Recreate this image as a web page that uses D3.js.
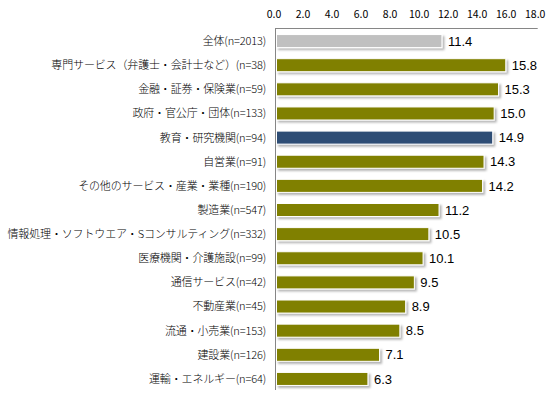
<!DOCTYPE html>
<html>
<head>
<meta charset="utf-8">
<script src="https://cdn.jsdelivr.net/npm/d3@7"></script>
<style>
  body { margin: 0; background: #fff; }
  svg { display: block; font-family: "Noto Sans CJK JP", sans-serif; }
</style>
</head>
<body>
<div id="chart"></div>
<script>
// categories and values
const categories = [
  '全体(n=2013)',
  '専門サービス（弁護士・会計士など）(n=38)',
  '金融・証券・保険業(n=59)',
  '政府・官公庁・団体(n=133)',
  '教育・研究機関(n=94)',
  '自営業(n=91)',
  'その他のサービス・産業・業種(n=190)',
  '製造業(n=547)',
  '情報処理・ソフトウエア・Sコンサルティング(n=332)',
  '医療機関・介護施設(n=99)',
  '通信サービス(n=42)',
  '不動産業(n=45)',
  '流通・小売業(n=153)',
  '建設業(n=126)',
  '運輸・エネルギー(n=64)'
];
const values = [11.4, 15.8, 15.3, 15.0, 14.9, 14.3, 14.2, 11.2, 10.5, 10.1, 9.5, 8.9, 8.5, 7.1, 6.3];
const tickValues = [0, 2, 4, 6, 8, 10, 12, 14, 16, 18];

const width = 557, height = 398;
const plotLeft = 276.5, plotRight = 537.7, plotTop = 29, plotBottom = 391;

// bar colours: total is grey, highlighted row is navy, the rest olive
function barColor(i) {
  if (i === 0) return '#c0c0c0';
  if (i === 4) return '#2f4d75';
  return '#808000';
}

const svg = d3.select('#chart').append('svg')
  .attr('width', width)
  .attr('height', height);

const defs = svg.append('defs');
const shadow = defs.append('filter')
  .attr('id', 'shadow')
  .attr('x', '-10%').attr('y', '-30%')
  .attr('width', '130%').attr('height', '180%');
shadow.append('feDropShadow')
  .attr('dx', 2).attr('dy', 2)
  .attr('stdDeviation', 1)
  .attr('flood-color', '#000')
  .attr('flood-opacity', 0.3);

const x = d3.scaleLinear().domain([0, 18]).range([plotLeft, plotRight]);
const y = d3.scaleBand()
  .domain(categories)
  .range([plotTop, plotBottom])
  .paddingInner(0.46)
  .paddingOuter(0.23);

// axis on top, tick labels only
const xAxis = svg.append('g')
  .attr('transform', `translate(0,${plotTop - 1})`)
  .call(d3.axisTop(x).tickValues(tickValues).tickFormat(d3.format('.1f')).tickSize(0).tickPadding(10));
xAxis.select('.domain').attr('stroke', '#868686').attr('d', `M${plotLeft - 1.5},0.5H${plotRight}`);
xAxis.selectAll('text')
  .attr('font-size', 10.5)
  .attr('dx', -3)
  .attr('fill', '#000')
  .attr('font-family', '"Noto Sans CJK JP", sans-serif');

// left axis line
svg.append('line')
  .attr('x1', plotLeft - 1).attr('x2', plotLeft - 1)
  .attr('y1', plotTop - 1).attr('y2', plotBottom - 1)
  .attr('stroke', '#868686');

// category labels
svg.append('g')
  .selectAll('text')
  .data(categories)
  .join('text')
  .attr('x', 266)
  .attr('y', d => y(d) + y.bandwidth() / 2)
  .attr('dy', '0.36em')
  .attr('text-anchor', 'end')
  .attr('font-size', 11)
  .attr('font-weight', 300)
  .attr('letter-spacing', '-0.15px')
  .attr('fill', '#000')
  .text(d => d);

// bars
svg.append('g')
  .selectAll('rect')
  .data(values)
  .join('rect')
  .attr('x', x(0))
  .attr('y', (d, i) => y(categories[i]))
  .attr('width', d => x(d) - x(0))
  .attr('height', y.bandwidth())
  .attr('fill', (d, i) => barColor(i))
  .attr('stroke', '#fff')
  .attr('stroke-width', 1)
  .attr('filter', 'url(#shadow)');

// value labels
svg.append('g')
  .selectAll('text')
  .data(values)
  .join('text')
  .attr('x', d => x(d) + 6)
  .attr('y', (d, i) => y(categories[i]) + y.bandwidth() / 2)
  .attr('dy', '0.36em')
  .attr('font-size', 13)
  .attr('font-family', '"Liberation Sans", Arial, sans-serif')
  .attr('fill', '#000')
  .text(d => d.toFixed(1));
</script>
</body>
</html>
